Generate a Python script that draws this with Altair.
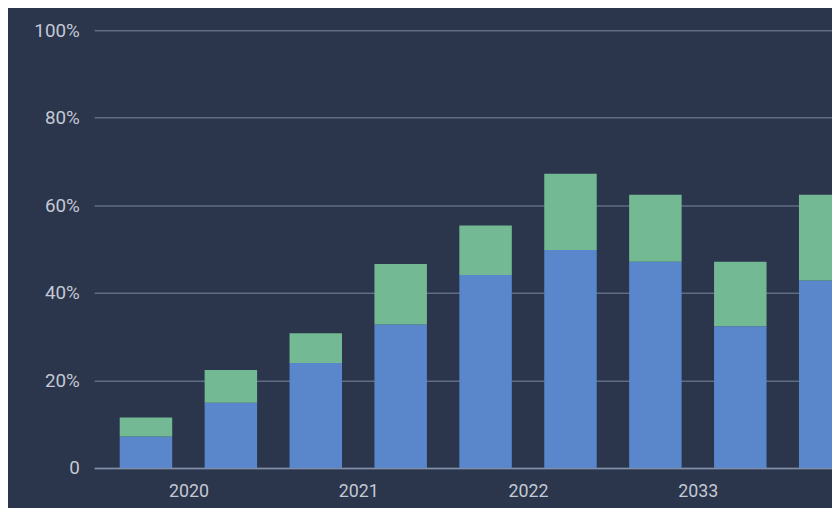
import altair as alt
import pandas as pd

# --- data (percent) ---
periods = ["2020 H1", "2020 H2", "2021 H1", "2021 H2", "2022 H1",
           "2022 H2", "2033 H1", "2033 H2", "2034 H1"]
blue_vals = [7.2, 14.9, 24.0, 32.8, 44.1, 49.8, 47.1, 32.4, 42.8]
green_vals = [4.3, 7.5, 6.8, 13.8, 11.3, 17.4, 15.3, 14.7, 19.6]
year_labels = ["2020", "2021", "2022", "2033"]
y_ticks = [0, 20, 40, 60, 80, 100]

rows = []
for i, p in enumerate(periods):
    rows.append({"pos": i + 0.5, "period": p, "series": "blue", "value": blue_vals[i], "ord": 0})
    rows.append({"pos": i + 0.5, "period": p, "series": "green", "value": green_vals[i], "ord": 1})
df = pd.DataFrame(rows)

label_positions = [2 * k + 1 for k in range(len(year_labels))]
label_expr = " : ".join(
    f"datum.value == {v} ? '{t}'" for v, t in zip(label_positions, year_labels)
) + " : ''"

bars = alt.Chart(df).mark_bar(size=53, clip=True).encode(
    x=alt.X(
        "pos:Q",
        scale=alt.Scale(domain=[-0.11, 8.58], nice=False, zero=False, padding=0),
        axis=alt.Axis(
            values=label_positions,
            labelExpr=label_expr,
            grid=False,
            ticks=False,
            domain=True,
            domainColor="#8190a8",
            domainWidth=1.5,
            labelColor="#c3c9d4",
            labelFontSize=18,
            labelPadding=15,
            labelFont="Roboto",
            title=None,
        ),
    ),
    y=alt.Y(
        "value:Q",
        stack="zero",
        scale=alt.Scale(domain=[0, 100], nice=False),
        axis=alt.Axis(
            values=y_ticks,
            labelExpr="datum.value == 0 ? '0' : datum.value + '%'",
            grid=True,
            gridColor="#5e6c84",
            gridWidth=1.5,
            ticks=False,
            domain=False,
            labelColor="#c3c9d4",
            labelFontSize=19,
            labelPadding=15,
            labelFont="Roboto",
            title=None,
        ),
    ),
    color=alt.Color(
        "series:N",
        scale=alt.Scale(domain=["blue", "green"], range=["#5a86cb", "#72b994"]),
        legend=None,
    ),
    order=alt.Order("ord:Q", sort="ascending"),
)

chart = bars.properties(
    width=745,
    height=442,
    autosize=alt.AutoSizeParams(type="none"),
    padding={"left": 87, "top": 20, "right": 0, "bottom": 38},
    background="#2b354c",
).configure_view(stroke=None)

chart.save("out.html", embed_options={"renderer": "svg", "actions": False})
